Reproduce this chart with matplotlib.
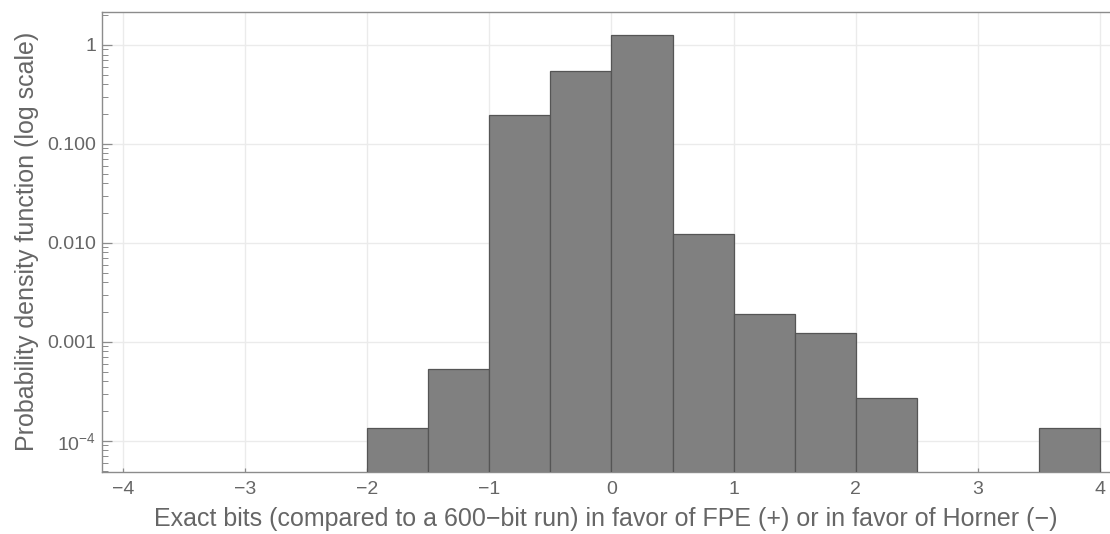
import numpy as np
import matplotlib
matplotlib.use("Agg")
import matplotlib.pyplot as plt
from matplotlib.ticker import FixedLocator, FuncFormatter, LogLocator, NullFormatter

plt.rcParams['font.family'] = ['Liberation Sans', 'DejaVu Sans']
plt.rcParams['mathtext.fontset'] = 'custom'
plt.rcParams['mathtext.rm'] = 'Liberation Sans'

# histogram bins (width 0.5) and density
bin_left = [-2.0, -1.5, -1.0, -0.5, 0.0, 0.5, 1.0, 1.5, 2.0, 2.5, 3.0, 3.5]
density = [1.36e-4, 5.35e-4, 0.197, 0.548, 1.25, 0.0124, 0.00192,
           0.00124, 2.7e-4, 0.0, 0.0, 1.36e-4]
bin_width = 0.5

xticks = [-4, -3, -2, -1, 0, 1, 2, 3, 4]
yticks = [1e-4, 1e-3, 1e-2, 1e-1, 1]
ytick_labels = {1e-4: r"$\mathregular{10^{-4}}$", 1e-3: "0.001", 1e-2: "0.010",
                1e-1: "0.100", 1: "1"}

text_col = "#666666"
axis_col = "#8c8c8c"

fig = plt.figure(figsize=(11.1, 5.34), dpi=100)
ax = fig.add_axes([0.0919, 0.117, 0.908, 0.8605])

x = np.array(bin_left)
h = np.array(density)
keep = h > 0
ax.bar(x[keep], h[keep], width=bin_width, align='edge', color="#808080",
       edgecolor="#555555", linewidth=0.9, zorder=3)

ax.set_yscale('log')
ax.set_xlim(-4.17, 4.08)
ax.set_ylim(4.9e-5, 2.15)

ax.xaxis.set_major_locator(FixedLocator(xticks))
ax.xaxis.set_major_formatter(FuncFormatter(lambda v, p: f"{int(v)}".replace("-", "\u2212")))
ax.yaxis.set_major_locator(FixedLocator(yticks))
ax.yaxis.set_major_formatter(FuncFormatter(lambda v, p: ytick_labels.get(
    min(yticks, key=lambda t: abs(np.log10(t) - np.log10(v))), "")))
ax.yaxis.set_minor_locator(LogLocator(base=10, subs=np.arange(2, 10)))
ax.yaxis.set_minor_formatter(NullFormatter())

ax.grid(True, which='major', color="#ebebeb", linewidth=1.0, zorder=0)
ax.set_axisbelow(True)

ax.spines['right'].set_visible(False)
for s in ['left', 'bottom', 'top']:
    ax.spines[s].set_color(axis_col)
    ax.spines[s].set_linewidth(1.0)

ax.tick_params(axis='y', which='major', direction='in', length=7, width=0.9,
               color=axis_col, labelcolor=text_col, labelsize=14, pad=4)
ax.tick_params(axis='y', which='minor', direction='in', length=4, width=0.7,
               color=axis_col)
ax.tick_params(axis='x', which='major', direction='in', length=3, width=0.9,
               color=axis_col, labelcolor=text_col, labelsize=14, pad=7)

ax.set_xlabel("Exact bits (compared to a 600\u2212bit run) in favor of FPE (+) or in favor of Horner (\u2212)",
              fontsize=18, color=text_col, labelpad=6)
ax.set_ylabel("Probability density function (log scale)", fontsize=18,
              color=text_col, labelpad=6)

fig.savefig("out.png", dpi=100)
